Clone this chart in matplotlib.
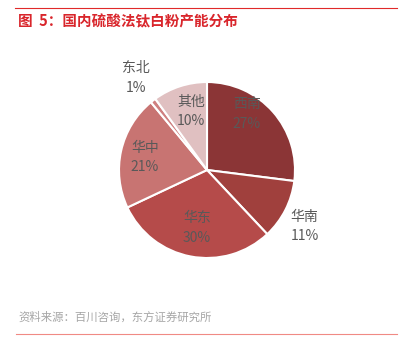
import numpy as np
import matplotlib.pyplot as plt
from matplotlib.lines import Line2D

plt.rcParams['font.family'] = ['Noto Sans CJK SC', 'DejaVu Sans']

regions = ['西南', '华南', '华东', '华中', '东北', '其他']
shares = [27, 11, 30, 21, 1, 10]
colors = ['#8b3536', '#a0403d', '#b54b4a', '#c87472', '#cf8080', '#e0c0c1']

# label placement (radius fraction, angle tweak in degrees)
lab_r = [0.78, 1.28, 0.67, 0.72, 1.32, 0.69]
lab_da = [13, -3, 1, 1, 0, -3]

fig = plt.figure(figsize=(4.0, 3.49), dpi=100)
W, H = 400, 349
cx, cy, r = 207, 170, 88
ax = fig.add_axes([(cx - r) / W, (H - cy - r) / H, 2 * r / W, 2 * r / H])
wedges, _ = ax.pie(shares, colors=colors, startangle=90, counterclock=False,
                   radius=1, wedgeprops=dict(edgecolor='white', linewidth=1.5))
ax.set_xlim(-1, 1)
ax.set_ylim(-1, 1)
ax.set_aspect('equal')
ax.axis('off')

for w, name, v, lr, da in zip(wedges, regions, shares, lab_r, lab_da):
    ang = np.deg2rad((w.theta1 + w.theta2) / 2 + da)
    x, y = lr * np.cos(ang), lr * np.sin(ang)
    ax.text(x, y, name + '\n' + str(v) + '%', ha='center', va='center',
            fontsize=10, color='#595959', linespacing=1.5)

# header / footer
fig.add_artist(Line2D([15 / W, 397 / W], [1 - 7.5 / H, 1 - 7.5 / H], color='#e02a2a', lw=0.8))
fig.text(18 / W, 1 - 21 / H, '图  5：国内硫酸法钛白粉产能分布', fontsize=10.5, fontweight='bold',
         color='#d9262c', ha='left', va='center')
fig.text(18 / W, 1 - 317 / H, '资料来源：百川咨询，东方证券研究所', fontsize=8.2,
         color='#a6a6a6', ha='left', va='center')
fig.add_artist(Line2D([16 / W, 397 / W], [1 - 334 / H, 1 - 334 / H], color='#f08a84', lw=0.8))

fig.savefig('out.png', dpi=100, facecolor='white')
